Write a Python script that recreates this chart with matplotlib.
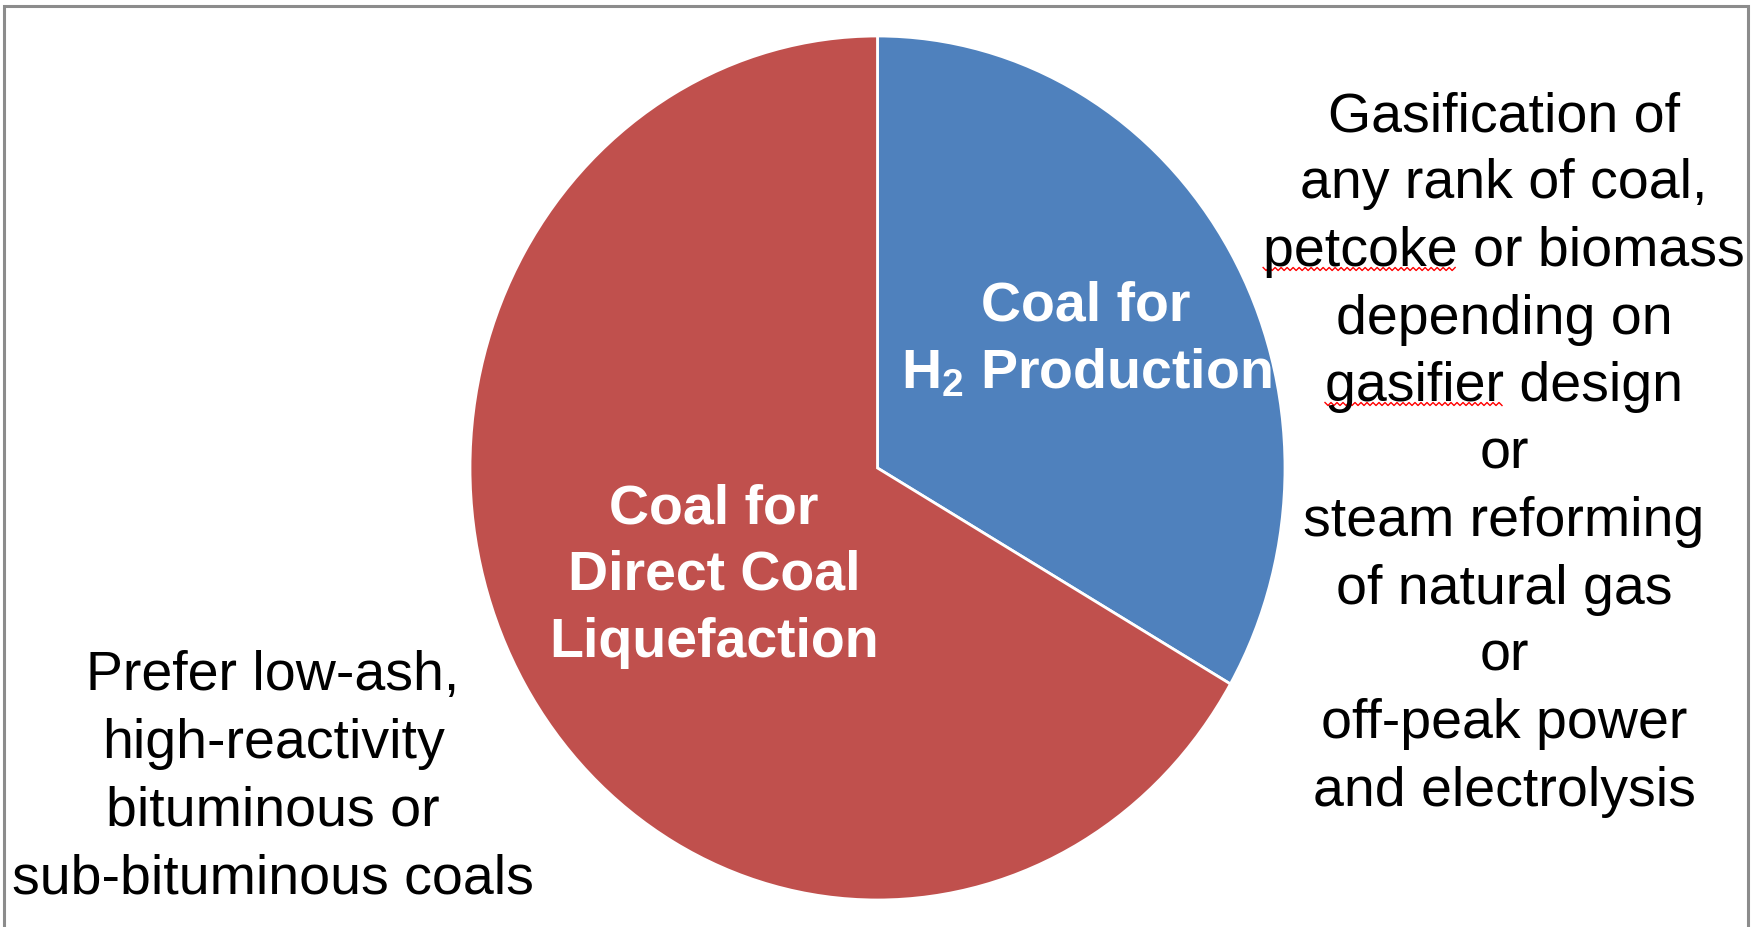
import matplotlib
matplotlib.use("Agg")
import numpy as np
import matplotlib.pyplot as plt
from matplotlib.patches import Rectangle
from matplotlib.lines import Line2D

plt.rcParams['font.family'] = ['Liberation Sans', 'DejaVu Sans']
plt.rcParams['mathtext.fontset'] = 'custom'
plt.rcParams['mathtext.rm'] = 'Liberation Sans:bold'
plt.rcParams['mathtext.it'] = 'Liberation Sans:bold'
plt.rcParams['mathtext.bf'] = 'Liberation Sans:bold'

# Data
categories = ["Coal for H$_2$ Production", "Coal for Direct Coal Liquefaction"]
shares = [1 / 3, 2 / 3]
colors = ["#4F81BD", "#C0504D"]
inner_labels = [["Coal for", "H$_2$ Production"],
                ["Coal for", "Direct Coal", "Liquefaction"]]
right_notes = ["Gasification of", "any rank of coal,", "petcoke or biomass",
               "depending on", "gasifier design", "or", "steam reforming",
               "of natural gas", "or", "off-peak power", "and electrolysis"]
left_notes = ["Prefer low-ash,", "high-reactivity", "bituminous or",
              "sub-bituminous coals"]
spellcheck_words = {2: "petcoke", 4: "gasifier"}

W, H = 1753, 928
fig = plt.figure(figsize=(W / 100, H / 100), dpi=100)

# frame
fig.patches.append(Rectangle((4 / W, -0.05), (1748 - 4) / W, 1.05 - 7 / H,
                             transform=fig.transFigure, fill=False,
                             edgecolor="#8c8c8c", linewidth=2.2))

# pie axes (pie is slightly elliptical in the reference)
left, right, top, bottom = 470, 1285, 37, 901
ax = fig.add_axes([left / W, (H - bottom) / H, (right - left) / W, (bottom - top) / H])
ax.pie(shares, colors=colors, startangle=90, counterclock=False,
       wedgeprops=dict(edgecolor="white", linewidth=2))
ax.set_aspect('auto')
ax.set_xlim(-1, 1)
ax.set_ylim(-1, 1)
ax.axis('off')

def px(x, y):
    return x / W, 1 - y / H

# inner labels
for lines, (cx, cy0) in zip(inner_labels, [(1086, 307), (714, 509)]):
    for i, s in enumerate(lines):
        fig.text(*px(cx, cy0 + i * 67), s, ha='center', va='center',
                 color='white', fontsize=40, fontweight='bold')

# side notes
right_texts = []
for i, s in enumerate(right_notes):
    t = fig.text(*px(1504, 117 + i * 67.5), s, ha='center', va='center',
                 color='black', fontsize=40)
    right_texts.append(t)
for i, s in enumerate(left_notes):
    fig.text(*px(273, 676 + i * 68), s, ha='center', va='center',
             color='black', fontsize=40)

# spell-check squiggles under flagged words
fig.canvas.draw()
renderer = fig.canvas.get_renderer()
for idx, word in spellcheck_words.items():
    t = right_texts[idx]
    bb = t.get_window_extent(renderer)
    tmp = fig.text(0, 0, word, fontsize=40)
    wbb = tmp.get_window_extent(renderer)
    tmp.remove()
    x0 = bb.x0
    x1 = bb.x0 + wbb.width
    y = bb.y0 + 8
    xs = np.arange(x0, x1 + 0.1, 3.0)
    ys = y + np.where(np.arange(len(xs)) % 2 == 0, 1.5, -1.5)
    fig.add_artist(Line2D(xs / W, ys / H, transform=fig.transFigure,
                          color="red", linewidth=1.0))

fig.savefig("out.png", dpi=100)
